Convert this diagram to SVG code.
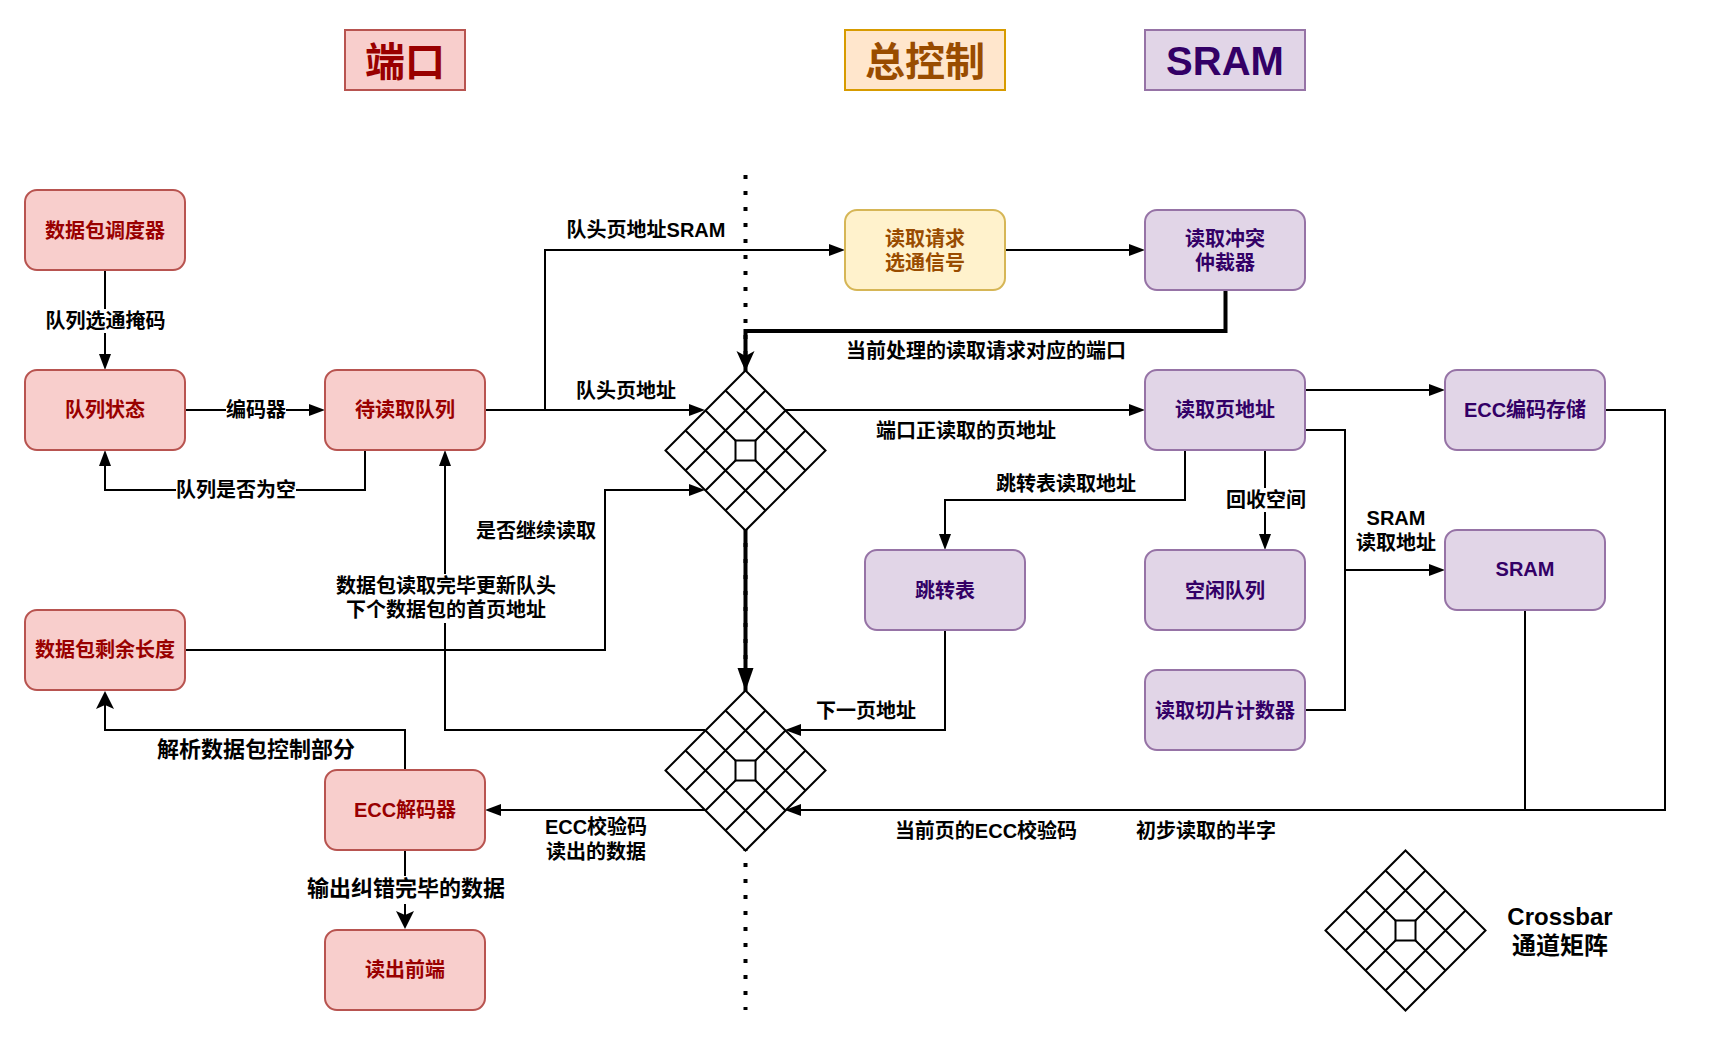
<svg xmlns="http://www.w3.org/2000/svg" width="1712" height="1045" viewBox="0 0 1712 1045">
<style>
text{font-family:"Liberation Sans","Noto Sans CJK SC",sans-serif;font-weight:bold;text-anchor:middle;dominant-baseline:central;font-size:20px;fill:#000}
.red rect{fill:#f8cecc;stroke:#b85450;stroke-width:2}.red text{fill:#990000}
.yel rect{fill:#fff2cc;stroke:#d6b656;stroke-width:2}.yel text{fill:#994c00}
.org rect{fill:#ffe6cc;stroke:#d79b00;stroke-width:2}.org text{fill:#994c00}
.pur rect{fill:#e1d5e7;stroke:#9673a6;stroke-width:2}.pur text{fill:#330066}
.t text{font-size:40px}
.c path{fill:none;stroke:#000;stroke-width:2;marker-end:url(#b)}
.c path.k{stroke-width:4;marker-end:url(#t)}
.c path.k2{stroke-width:4;marker-end:url(#t2)}
.c path.cl{marker-end:url(#cl)}
.c path.p{marker-end:none}
.c rect{fill:#fff;stroke:none}
text.l22{font-size:22px}
text.l24{font-size:24px}
.xo{fill:#fff;stroke:#000;stroke-width:2}
.xg{fill:none;stroke:#000;stroke-width:2}
.xc{fill:#fff;stroke:#000;stroke-width:2}
</style>
<defs>
<marker id="b" markerUnits="userSpaceOnUse" markerWidth="18" markerHeight="14" refX="12" refY="7" orient="auto"><path d="M0 1L16 7L0 13z" fill="#000"/></marker>
<marker id="t" markerUnits="userSpaceOnUse" markerWidth="22" markerHeight="20" refX="16" refY="10" orient="auto"><path d="M0 1L20 10L0 19L5 10z" fill="#000"/></marker>
<marker id="t2" markerUnits="userSpaceOnUse" markerWidth="25" markerHeight="18" refX="19" refY="9" orient="auto"><path d="M0 1L23 9L0 17z" fill="#000"/></marker>
<marker id="cl" markerUnits="userSpaceOnUse" markerWidth="20" markerHeight="20" refX="14" refY="10" orient="auto"><path d="M0 1L18 10L0 19L4 10z" fill="#000"/></marker>
<g id="xb"><path class="xo" d="M0 -80L80 0L0 80L-80 0z"/><path class="xg" d="M-20 -60L60 20M-40 -40L40 40M-60 -20L20 60M20 -60L-60 20M40 -40L-40 40M60 -20L-20 60"/><rect class="xc" x="-10" y="-10" width="20" height="20"/></g>
</defs>
<path id="divider" d="M745.5 175V1010" fill="none" stroke="#000" stroke-width="4" stroke-dasharray="4 12"/>
<g id="crossbar1" transform="translate(745.5 450.5)"><use href="#xb"/></g>
<g id="crossbar2" transform="translate(745.5 770.5)"><use href="#xb"/></g>
<g id="crossbar-legend" transform="translate(1405.5 930.5)"><use href="#xb"/></g>
<g id="connectors" class="c">
<path d="M105 270V366"/>
<path d="M185 410H321"/>
<path d="M365 450V490H105V454"/>
<path d="M485 410H701"/>
<path d="M545 410V250H841"/>
<path d="M1005 250H1141"/>
<path class="k" d="M1225.5 290V331H745.5V367"/>
<path d="M785 410H1141"/>
<path d="M1305 390H1441"/>
<path d="M1305 430H1345V570H1441"/>
<path class="p" d="M1305 710H1345V570"/>
<path d="M1185 450V500H945V546"/>
<path d="M1265 450V546"/>
<path d="M945 630V730H789"/>
<path d="M705 730H445V454"/>
<path class="k2" d="M745.5 531V687"/>
<path d="M185 650H605V490H701"/>
<path d="M705 810H489"/>
<path d="M1605 410H1665V810H789"/>
<path class="p" d="M1525 610V810"/>
<path class="cl" d="M405 770V730H105V695"/>
<path class="cl" d="M405 850V925"/>
<g id="connector-labels">
<rect x="45" y="309" width="120" height="24"/><text x="105.500" y="321">队列选通掩码</text>
<rect x="226" y="398" width="60" height="24"/><text x="256" y="410">编码器</text>
<rect x="176" y="478" width="120" height="24"/><text x="236" y="490">队列是否为空</text>
<text x="626" y="391">队头页地址</text>
<text x="646" y="230">队头页地址SRAM</text>
<text x="986" y="351">当前处理的读取请求对应的端口</text>
<text x="966" y="431">端口正读取的页地址</text>
<text x="1396" y="518">SRAM</text><text x="1396" y="543">读取地址</text>
<text x="1066" y="484">跳转表读取地址</text>
<rect x="1225" y="488" width="80" height="24"/><text x="1266" y="500">回收空间</text>
<text x="866" y="711">下一页地址</text>
<rect x="336" y="574" width="220" height="49"/><text x="446" y="586">数据包读取完毕更新队头</text><text x="446" y="610">下个数据包的首页地址</text>
<text x="536" y="531">是否继续读取</text>
<text x="596" y="827">ECC校验码</text><text x="596" y="852">读出的数据</text>
<text x="986" y="831">当前页的ECC校验码</text>
<text x="1206" y="831">初步读取的半字</text>
<text class="l22" x="256" y="749">解析数据包控制部分</text>
<rect x="305" y="876" width="200" height="28"/><text class="l22" x="406" y="888">输出纠错完毕的数据</text>
</g>
</g>
<g id="title-port" class="red t"><rect x="345" y="30" width="120" height="60"/><text x="405" y="62">端口</text></g>
<g id="title-ctrl" class="org t"><rect x="845" y="30" width="160" height="60"/><text x="925" y="62">总控制</text></g>
<g id="title-sram" class="pur t"><rect x="1145" y="30" width="160" height="60"/><text x="1225" y="61">SRAM</text></g>
<g id="n-scheduler" class="red"><rect x="25" y="190" width="160" height="80" rx="12"/><text x="105" y="231">数据包调度器</text></g>
<g id="n-qstate" class="red"><rect x="25" y="370" width="160" height="80" rx="12"/><text x="105" y="410">队列状态</text></g>
<g id="n-pending" class="red"><rect x="325" y="370" width="160" height="80" rx="12"/><text x="405" y="410">待读取队列</text></g>
<g id="n-remain" class="red"><rect x="25" y="610" width="160" height="80" rx="12"/><text x="105" y="650">数据包剩余长度</text></g>
<g id="n-eccdec" class="red"><rect x="325" y="770" width="160" height="80" rx="12"/><text x="405" y="810">ECC解码器</text></g>
<g id="n-front" class="red"><rect x="325" y="930" width="160" height="80" rx="12"/><text x="405" y="970">读出前端</text></g>
<g id="n-req" class="yel"><rect x="845" y="210" width="160" height="80" rx="12"/><text x="925" y="239">读取请求</text><text x="925" y="263">选通信号</text></g>
<g id="n-arb" class="pur"><rect x="1145" y="210" width="160" height="80" rx="12"/><text x="1225" y="239">读取冲突</text><text x="1225" y="263">仲裁器</text></g>
<g id="n-page" class="pur"><rect x="1145" y="370" width="160" height="80" rx="12"/><text x="1225" y="410">读取页地址</text></g>
<g id="n-eccenc" class="pur"><rect x="1445" y="370" width="160" height="80" rx="12"/><text x="1525" y="410">ECC编码存储</text></g>
<g id="n-jump" class="pur"><rect x="865" y="550" width="160" height="80" rx="12"/><text x="945" y="591">跳转表</text></g>
<g id="n-free" class="pur"><rect x="1145" y="550" width="160" height="80" rx="12"/><text x="1225" y="591">空闲队列</text></g>
<g id="n-slice" class="pur"><rect x="1145" y="670" width="160" height="80" rx="12"/><text x="1225" y="711">读取切片计数器</text></g>
<g id="n-sram" class="pur"><rect x="1445" y="530" width="160" height="80" rx="12"/><text x="1525" y="569">SRAM</text></g>
<g id="legend-label"><text class="l24" x="1560" y="916">Crossbar</text><text class="l24" x="1560" y="945">通道矩阵</text></g>
</svg>
